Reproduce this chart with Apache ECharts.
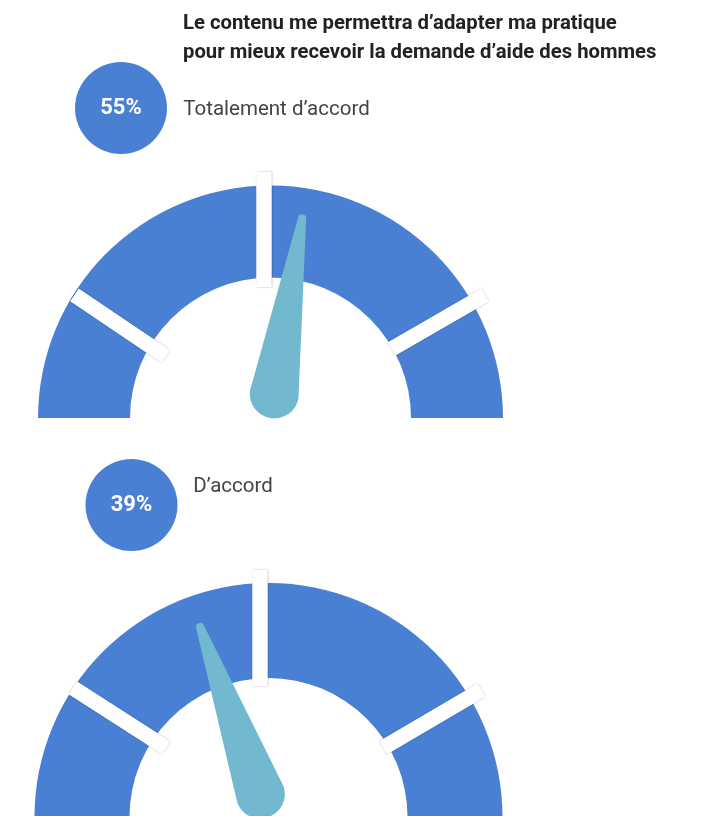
<!DOCTYPE html>
<html>
<head>
<meta charset="utf-8">
<script src="https://cdn.jsdelivr.net/npm/echarts@6/dist/echarts.min.js"></script>
<style>
html, body { margin: 0; padding: 0; background: #fff; }
#chart { width: 706px; height: 816px; }
</style>
</head>
<body>
<div id="chart"></div>
<script>
// données
const titre = ['Le contenu me permettra d’adapter ma pratique', 'pour mieux recevoir la demande d’aide des hommes'];
const categories = ['Totalement d’accord', 'D’accord'];
const valeurs = [55, 39];

const BLEU = '#4a80d4';
const TURQUOISE = '#72b9cf';
// aiguille : pointe fine arrondie, base ronde
const AIGUILLE = 'path://M20 4A4 4 0 0 1 28 4L48 182A24 24 0 0 1 0 182Z';

// mise en page de chaque jauge (centre, rayon, épaisseur, rond, libellé, séparateurs)
const jauges = [
	{
		centre: [270.5, 418], rayon: 232.5, epaisseur: 92,
		rond: [-149.5, -310], libelle: [6, -308],
		seps: [
			{ c: [257, 418], a: 146, r0: 220, r1: 110 },
			{ c: [264, 418], a: 90, r0: 246, r1: 131 },
			{ c: [272, 418], a: 30, r0: 246, r1: 138 }
		]
	},
	{
		centre: [268.5, 817], rayon: 234, epaisseur: 95,
		rond: [-137, -312], libelle: [-35.5, -330],
		seps: [
			{ c: [274, 817], a: 147.3, r0: 239, r1: 128 },
			{ c: [260, 817], a: 90, r0: 247, r1: 131 },
			{ c: [265, 817], a: 30.4, r0: 251, r1: 137 }
		]
	}
];

const chart = echarts.init(document.getElementById('chart'));

function base(centre, rayon) {
	return {
		type: 'gauge',
		center: centre,
		radius: rayon,
		min: 0,
		max: 100,
		silent: true,
		axisLine: { show: false, lineStyle: { width: 0 } },
		axisTick: { show: false },
		axisLabel: { show: false },
		splitLine: { show: false },
		pointer: { show: false },
		anchor: { show: false },
		progress: { show: false },
		title: { show: false },
		detail: { show: false },
		data: []
	};
}

// trait blanc de séparation (deux traits confondus sur un tour complet)
function separateur(s) {
	return Object.assign(base(s.c, s.r0), {
		startAngle: s.a,
		endAngle: s.a - 360,
		splitNumber: 1,
		splitLine: {
			show: true,
			distance: 0,
			length: s.r0 - s.r1,
			lineStyle: { color: '#fff', width: 15, shadowColor: 'rgba(0,0,0,0.15)', shadowBlur: 2 }
		}
	});
}

let series = [];
jauges.forEach((j, i) => {
	// anneau bleu
	series.push(Object.assign(base(j.centre, j.rayon), {
		startAngle: 180,
		endAngle: 0,
		axisLine: { show: true, lineStyle: { width: j.epaisseur, color: [[1, BLEU]] } }
	}));
	j.seps.forEach(s => series.push(separateur(s)));
	// aiguille + pourcentage + libellé
	series.push(Object.assign(base(j.centre, j.rayon), {
		startAngle: 180,
		endAngle: 0,
		pointer: {
			show: true,
			icon: AIGUILLE,
			length: 206,
			width: 49,
			offsetCenter: [0, 0],
			itemStyle: { color: TURQUOISE }
		},
		title: {
			show: true,
			offsetCenter: j.libelle,
			color: '#444',
			fontSize: 20.5,
			fontFamily: 'Roboto'
		},
		detail: {
			show: true,
			offsetCenter: j.rond,
			formatter: '{value}%',
			color: '#fff',
			fontSize: 22,
			fontWeight: 'bold',
			fontFamily: 'Roboto',
			backgroundColor: BLEU,
			padding: 0,
			width: 92,
			height: 92,
			lineHeight: 92,
			borderRadius: 46
		},
		data: [{ value: valeurs[i], name: categories[i] }]
	}));
});

chart.setOption({
	animation: false,
	backgroundColor: '#fff',
	title: {
		text: titre.join('\n'),
		left: 183,
		top: 10,
		padding: 0,
		textStyle: {
			fontFamily: 'Roboto',
			fontSize: 20.3,
			fontWeight: 'bold',
			color: '#222',
			lineHeight: 28.5
		}
	},
	series: series
});
</script>
</body>
</html>
